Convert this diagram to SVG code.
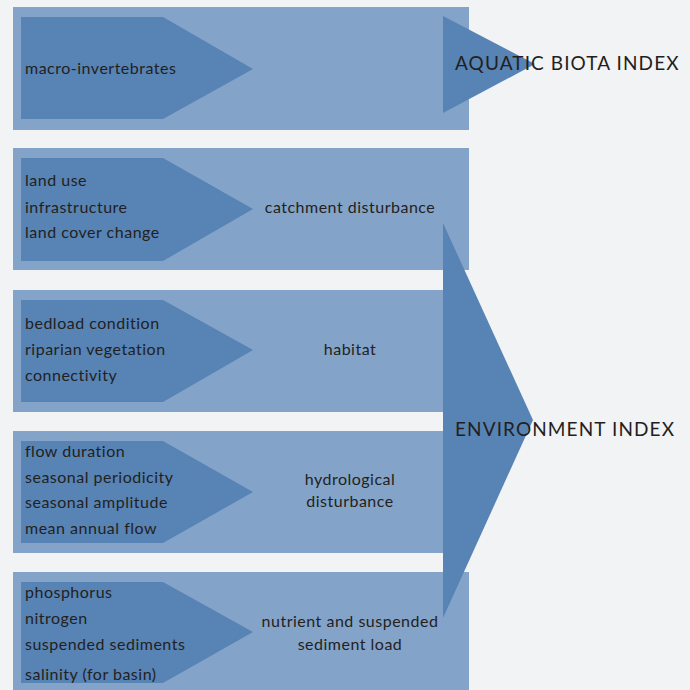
<svg xmlns="http://www.w3.org/2000/svg" width="690" height="690" viewBox="0 0 690 690">
<style>
.bg{fill:#f2f3f5}
.outer{fill:#84a3c9}
.inner{fill:#5783b5}
.big{fill:#5783b5}
text{font-family:Lato,"Liberation Sans",sans-serif;fill:#231f20}
.s{font-size:16px;letter-spacing:0.5px}
.c{text-anchor:middle}
.idx{font-size:19px;letter-spacing:1.1px}
</style>
<rect class="bg" x="0" y="0" width="690" height="690"/>
<g id="row-aquatic">
<rect class="outer" x="13" y="7" width="456" height="123"/>
<path class="inner" d="M21 17H163L253 69L163 119H21Z"/>
<text class="s" x="25" y="74">macro-invertebrates</text>
</g>
<g id="row-catchment">
<rect class="outer" x="13" y="148" width="456" height="122"/>
<path class="inner" d="M21 158H163L253 209L163 261H21Z"/>
<text class="s" x="25" y="186">land use</text>
<text class="s" x="25" y="213">infrastructure</text>
<text class="s" x="25" y="238">land cover change</text>
<text class="s c" x="350" y="213">catchment disturbance</text>
</g>
<g id="row-habitat">
<rect class="outer" x="13" y="290" width="456" height="122"/>
<path class="inner" d="M21 300H163L253 350L163 402H21Z"/>
<text class="s" x="25" y="329">bedload condition</text>
<text class="s" x="25" y="355">riparian vegetation</text>
<text class="s" x="25" y="381">connectivity</text>
<text class="s c" x="350" y="355">habitat</text>
</g>
<g id="row-hydro">
<rect class="outer" x="13" y="431" width="456" height="122"/>
<path class="inner" d="M21 441H163L253 492L163 543H21Z"/>
<text class="s" x="25" y="457">flow duration</text>
<text class="s" x="25" y="483">seasonal periodicity</text>
<text class="s" x="25" y="508">seasonal amplitude</text>
<text class="s" x="25" y="534">mean annual flow</text>
<text class="s c" x="350" y="485">hydrological</text>
<text class="s c" x="350" y="507">disturbance</text>
</g>
<g id="row-nutrient">
<rect class="outer" x="13" y="572" width="456" height="118"/>
<path class="inner" d="M21 582H163L253 632L163 683H21Z"/>
<text class="s" x="25" y="598">phosphorus</text>
<text class="s" x="25" y="624">nitrogen</text>
<text class="s" x="25" y="650">suspended sediments</text>
<text class="s" x="25" y="680">salinity (for basin)</text>
<text class="s c" x="350" y="627">nutrient and suspended</text>
<text class="s c" x="350" y="650">sediment load</text>
</g>
<g id="connectors">
<path class="big" d="M443 16L535 64L443 113Z"/>
<path class="big" d="M443 223L533 420L443 618Z"/>
</g>
<g id="aquatic-index">
<text class="idx" x="455" y="70">AQUATIC BIOTA INDEX</text>
</g>
<g id="environment-index">
<text class="idx" x="455" y="436">ENVIRONMENT INDEX</text>
</g>
</svg>
